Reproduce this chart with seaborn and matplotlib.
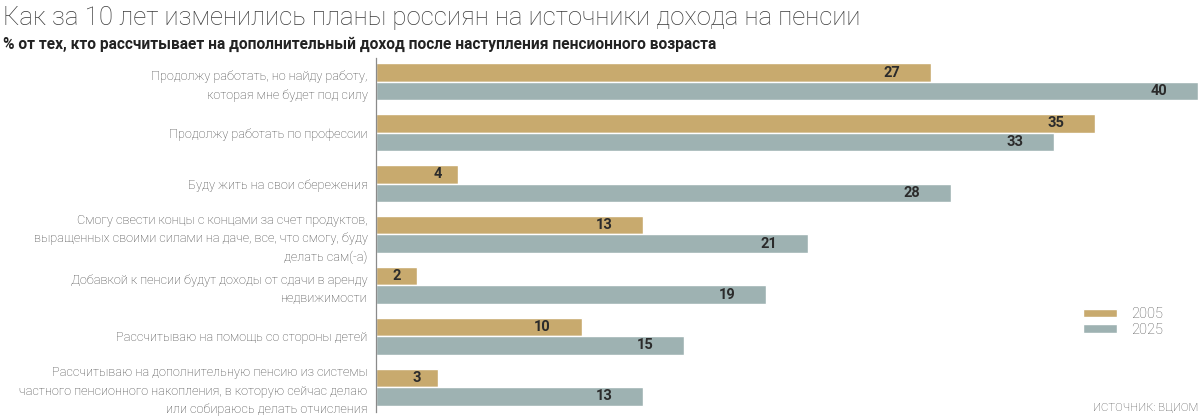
import matplotlib
matplotlib.use("Agg")
import matplotlib.pyplot as plt
import seaborn as sns
import pandas as pd

# ======================
# DATA
# ======================
categories = [
    "Продолжу работать, но найду работу,\nкоторая мне будет под силу",
    "Продолжу работать по профессии",
    "Буду жить на свои сбережения",
    "Смогу свести концы с концами за счет продуктов,\nвыращенных своими силами на даче, все, что смогу, буду\nделать сам(-а)",
    "Добавкой к пенсии будут доходы от сдачи в аренду\nнедвижимости",
    "Рассчитываю на помощь со стороны детей",
    "Рассчитываю на дополнительную пенсию из системы\nчастного пенсионного накопления, в которую сейчас делаю\nили собираюсь делать отчисления",
]
years = ["2005", "2025"]
values_2005 = [27, 35, 4, 13, 2, 10, 3]
values_2025 = [40, 33, 28, 21, 19, 15, 13]

title = "Как за 10 лет изменились планы россиян на источники дохода на пенсии"
subtitle = "% от тех, кто рассчитывает на дополнительный доход после наступления пенсионного возраста"
source = "ИСТОЧНИК: ВЦИОМ"

colors = {"2005": "#C8AA6E", "2025": "#9EB2B2"}

df = pd.DataFrame({
    "category": categories * 2,
    "year": [years[0]] * len(categories) + [years[1]] * len(categories),
    "value": values_2005 + values_2025,
})

# ======================
# STYLE
# ======================
sns.set_theme(style="white")
plt.rcParams["font.family"] = ["Roboto", "DejaVu Sans"]

W, H = 1202, 417
fig = plt.figure(figsize=(W / 100, H / 100), dpi=100)
ax = fig.add_axes([376 / W, 1 - 412 / H, (1198 - 376) / W, (412 - 58) / H])

sns.barplot(data=df, y="category", x="value", hue="year", orient="h",
            palette=colors, width=0.73, saturation=1, ax=ax, legend=True)

ax.set_xlim(0, 40)
ax.set_ylim(len(categories) - 1 + 0.49, -0.47)
ax.set_xlabel("")
ax.set_ylabel("")
ax.set_xticks([])
for s in ["top", "right", "bottom"]:
    ax.spines[s].set_visible(False)
ax.spines["left"].set_color("#8a8a8a")
ax.spines["left"].set_linewidth(0.9)
ax.tick_params(axis="y", length=0, pad=6, labelsize=9.2, labelcolor="#444444")
for lbl in ax.get_yticklabels():
    lbl.set_linespacing(1.55)
    lbl.set_fontweight("light")

# value labels inside bars
for cont in ax.containers:
    for bar in cont:
        v = bar.get_width()
        txt = f"{int(round(v))}"
        off = 1.9 if len(txt) > 1 else 1.0
        ax.text(v - off, bar.get_y() + bar.get_height() / 2, txt,
                ha="center", va="center", fontsize=10.5, fontweight="bold",
                color="#2b2b2b")

# legend
handles, labels = ax.get_legend_handles_labels()
leg = ax.legend(handles, labels, loc="center left",
                bbox_to_anchor=(1083 / W, 1 - 322 / H), bbox_transform=fig.transFigure,
                frameon=False, borderpad=0, borderaxespad=0,
                handlelength=2.3, handleheight=0.55, handletextpad=1.0,
                labelspacing=0.12, fontsize=10.5, labelcolor="#555555")
for t in leg.get_texts():
    t.set_fontweight("light")

# texts
fig.text(3 / W, 1 - 18 / H, title, ha="left", va="center",
         fontsize=18.5, fontweight="light", color="#3a3a3a")
fig.text(3 / W, 1 - 44 / H, subtitle, ha="left", va="center",
         fontsize=11.2, fontweight="bold", color="#222222")
fig.text(1198 / W, 1 - 408 / H, source, ha="right", va="center",
         fontsize=8.2, fontweight="light", color="#444444")

fig.savefig("out.png", dpi=100, facecolor="white")
